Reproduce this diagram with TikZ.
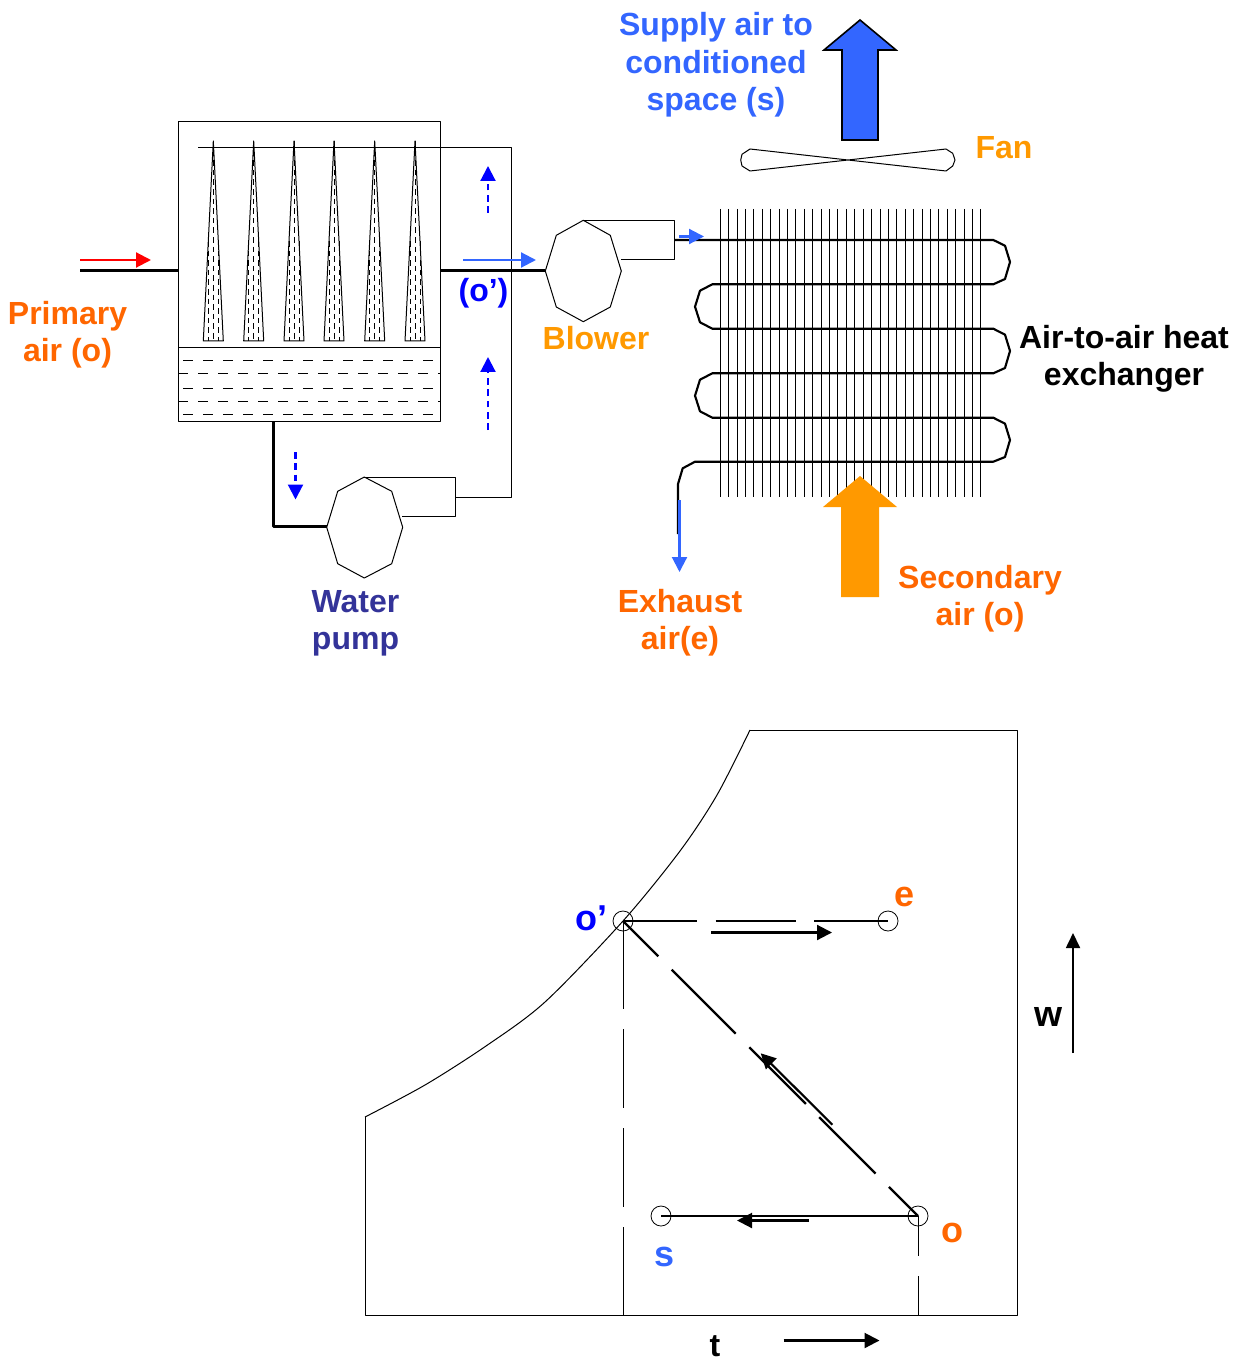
\documentclass[tikz,border=0pt]{standalone}
\usepackage{fontspec}
\setmainfont{Liberation Sans}
\usetikzlibrary{arrows.meta}
\definecolor{cblue}{HTML}{3366FF}
\definecolor{pureblue}{HTML}{0000FF}
\definecolor{corange}{HTML}{FF6600}
\definecolor{camber}{HTML}{FF9900}
\definecolor{cnavy}{HTML}{333399}
\tikzset{
  thinline/.style={draw=black,line width=0.75pt,line join=round},
  pipe/.style={draw=black,line width=2.25pt,line join=round},
  lbl/.style={font=\fontsize{24}{28}\selectfont\bfseries,align=center,inner sep=0pt},
  lblone/.style={font=\fontsize{24}{28}\selectfont\bfseries,inner sep=0pt,anchor=base},
  lblchart/.style={font=\fontsize{27}{30}\selectfont\bfseries,inner sep=0pt,anchor=base},
  tipbig/.style={-{Triangle[length=11.25pt,width=11.25pt]}},
  flowblue/.style={draw=cblue,line width=1.6pt,tipbig,cblue},
  flowdash/.style={draw=pureblue,line width=1.6pt,tipbig,pureblue,dash pattern=on 5pt off 3.5pt},
  stateline/.style={draw=black,line width=1.6pt,tipbig},
  statepoint/.style={circle,draw=black,line width=0.6pt,minimum size=15pt,inner sep=0pt,fill=none},
  spray/.style={draw=black,line width=0.55pt,dash pattern=on 4.2pt off 3pt},
  waterdash/.style={draw=black,line width=0.75pt,dash pattern=on 7.5pt off 7.5pt},
}
\begin{document}
\begin{tikzpicture}[x=0.75pt,y=-0.75pt]
\useasboundingbox (0,0) rectangle (1238,1358);

% ---- washer tower
\coordinate (towerNW) at (178,122);
\coordinate (towerSE) at (440,421);
\draw[thinline] (towerNW) rectangle (towerSE);
\draw[thinline] (178,348) -- (440,348);
\foreach \yy/\xa/\xb in {361/183/440,374/178/440,388/183/440,401/178/440,414/183/440}
  \draw[waterdash] (\xa,\yy) -- (\xb,\yy);
\foreach \cx in {213.3,253.7,294,334,374.7,415}{
  \draw[thinline] (\cx,141) -- (\cx-10,341) -- (\cx+10,341) -- cycle;
  \draw[spray] (\cx,141) -- (\cx,341);
  \draw[spray] (\cx-5,241) -- (\cx-5,341);
  \draw[spray] (\cx+5,241) -- (\cx+5,341);
}

% ---- named ports
\coordinate (primaryIn) at (80,271);
\coordinate (towerIn) at (178,271);
\coordinate (towerOut) at (440,271);
\coordinate (blowerIn) at (545.3,271);
\coordinate (sprayEnd) at (198,148);
\coordinate (sprayCorner) at (511,148);
\coordinate (riserFoot) at (511,497);
\coordinate (pumpOut) at (455.3,497);
\coordinate (sumpOut) at (273,421);
\coordinate (sumpCorner) at (273,526);
\coordinate (pumpIn) at (326.7,526);
\coordinate (blowerOut) at (674,240);
\coordinate (coilStart) at (993.3,240);

% ---- pump
\draw[thinline] (364.3,477) -- (391.7,491.3) -- (402.7,527.3) -- (391.7,563.7) -- (364.3,578)
  -- (337.7,563.7) -- (326.7,527.3) -- (337.7,491.3) -- cycle;
\draw[thinline] (364.3,477) -- (455.3,477) -- (455.3,516) -- (402,516);
% ---- blower
\draw[thinline] (583.3,220.3) -- (610.3,235.3) -- (621.3,271) -- (610.3,307) -- (583.3,321.7)
  -- (556.3,307) -- (545.3,271) -- (556.3,235.3) -- cycle;
\draw[thinline] (583.3,220.3) -- (674,220.3) -- (674,259.3) -- (620.6,259.3);

% ---- pipes
\draw[pipe] (primaryIn) -- (towerIn);
\draw[pipe] (towerOut) -- (blowerIn);
\draw[thinline] (sprayEnd) -- (sprayCorner) -- (riserFoot) -- (pumpOut);
\draw[pipe] (sumpOut) -- (sumpCorner) -- (pumpIn);

% ---- heat exchanger fins and coil
\foreach \i in {0,...,31}
  \draw[draw=black,line width=0.75pt] ({720.3+\i*8.405},209) -- ({720.3+\i*8.405},497);
\draw[pipe,line width=1.6pt] (blowerOut) -- (coilStart)
  -- (1005,245.7) -- (1010,262) -- (1005,279) -- (993.3,284.3)
  -- (712.3,284.3) -- (700,290.7) -- (695,306.7) -- (700,322.3) -- (712.3,328.7)
  -- (993.3,328.7) -- (1005,334.7) -- (1010,351) -- (1005,368) -- (993.3,373.3)
  -- (712.3,373.3) -- (700,379.7) -- (695,395.7) -- (700,411.3) -- (712.3,417.7)
  -- (993.3,417.7) -- (1005,423.7) -- (1010,440) -- (1005,457) -- (993.3,461.7)
  -- (695,461.7) -- (682.7,468.3) -- (678,484) -- (678,534);

% ---- fan
\draw[thinline] (750,149) -- (946,171) -- (952.7,166) -- (955,160) -- (952.7,153.3) -- (946,149)
  -- (750,171) -- (742,166) -- (740.7,160) -- (742,154.3) -- cycle;

% ---- big arrows
\fill[camber] (860,476) -- (897,507) -- (879,507) -- (879,597) -- (841,597) -- (841,507) -- (823,507) -- cycle;
\draw[draw=black,line width=1.2pt,fill=cblue,line join=miter] (860,20) -- (896,50) -- (878,50) -- (878,140)
  -- (842,140) -- (842,50) -- (824,50) -- cycle;

% ---- flow arrows
\coordinate (redA) at (80,260); \coordinate (redB) at (151,260);
\draw[draw=red,line width=1.6pt,tipbig,red] (redA) -- (redB);
\coordinate (oA) at (463,260); \coordinate (oB) at (536,260);
\draw[flowblue] (oA) -- (oB);
\coordinate (cA) at (679,236.5); \coordinate (cB) at (704,236.5);
\draw[flowblue] (cA) -- (cB);
\coordinate (exA) at (679.5,500); \coordinate (exB) at (679.5,572);
\draw[flowblue] (exA) -- (exB);
\coordinate (d1a) at (488,213); \coordinate (d1b) at (488,166);
\draw[flowdash] (d1a) -- (d1b);
\coordinate (d2a) at (488,430); \coordinate (d2b) at (488,357);
\draw[flowdash] (d2a) -- (d2b);
\coordinate (d3a) at (295.5,452); \coordinate (d3b) at (295.5,499.5);
\draw[flowdash] (d3a) -- (d3b);

% ---- psychrometric chart
\draw[thinline] (750,730) -- (1017,730) -- (1017,1315) -- (365,1315) -- (365,1117);
\draw[thinline] plot[smooth,tension=0.5] coordinates {(750,730) (717,795) (680,851) (623,921) (545,1002) (486,1046) (425,1085) (365,1117)};
\node[statepoint] (po) at (918,1216) {};
\node[statepoint] (pop) at (623,921) {};
\node[statepoint] (pe) at (888,921) {};
\node[statepoint] (ps) at (661,1216) {};
\coordinate (popBase) at (623,1315);
\coordinate (poBase) at (918,1315);
\draw[draw=black,line width=0.75pt,dash pattern=on 66pt off 15pt on 59.25pt off 15pt on 59.25pt off 15pt on 66pt off 0pt] (pop.center) -- (popBase);
\draw[draw=black,line width=0.75pt,dash pattern=on 30pt off 15pt on 30pt off 0pt] (po.center) -- (poBase);
\draw[draw=black,line width=0.8pt,dash pattern=on 55.3pt off 14.2pt on 60pt off 14pt on 60pt off 14pt on 60pt off 0pt] (pop.center) -- (pe.center);
\draw[draw=black,line width=1.6pt,dash pattern=on 37.4pt off 14.2pt on 67.9pt off 14.4pt on 60.1pt off 14.1pt on 59.8pt off 14.1pt on 40pt off 0pt] (pop.center) -- (po.center);
\draw[draw=black,line width=0.8pt] (ps.center) -- (po.center);

\coordinate (a1) at (711.3,932.5); \coordinate (a1b) at (832,932.5);
\draw[stateline] (a1) -- (a1b);
\coordinate (a2) at (832.3,1124.7); \coordinate (a2b) at (760.7,1053.3);
\draw[stateline] (a2) -- (a2b);
\coordinate (a3) at (809,1220.5); \coordinate (a3b) at (737,1220.5);
\draw[stateline] (a3) -- (a3b);
\coordinate (tA) at (783.5,1340.5); \coordinate (tB) at (879.5,1340.5);
\draw[stateline] (tA) -- (tB);
\coordinate (wA) at (1073,1053); \coordinate (wB) at (1073,933);
\draw[draw=black,line width=1.3pt,-{Triangle[length=11.25pt,width=10.5pt]}] (wA) -- (wB);

% ---- labels
\node[lbl,text=cblue] (lsupply) at (716,65) {Supply air to\\conditioned\\space (s)};
\node[lbl,text=corange] (lprimary) at (67.5,335) {Primary\\air (o)};
\node[lblone,text=camber] (lblower) at (596,350) {Blower};
\node[lblone,text=camber] (lfan) at (1004,159) {Fan};
\node[lblone,text=pureblue] (lop) at (483.5,302) {(o’)};
\node[lbl,text=cnavy] (lpump) at (355.5,623) {Water\\pump};
\node[lbl,text=black] (lhx) at (1124,359) {Air-to-air heat\\exchanger};
\node[lbl,text=corange] (lex) at (680,623) {Exhaust\\air(e)};
\node[lbl,text=corange] (lsec) at (980,599) {Secondary\\air (o)};
\node[lblchart,text=pureblue] (cop) at (591,930) {o’};
\node[lblchart,text=corange] (ce) at (904,906) {e};
\node[lblchart,text=cblue] (cs) at (664,1266) {s};
\node[lblchart,text=corange] (co) at (952,1242) {o};
\node[lblchart,text=black] (cw) at (1048,1026) {w};
\node[lblone,text=black] (ct) at (715,1356) {t};
\end{tikzpicture}
\end{document}
